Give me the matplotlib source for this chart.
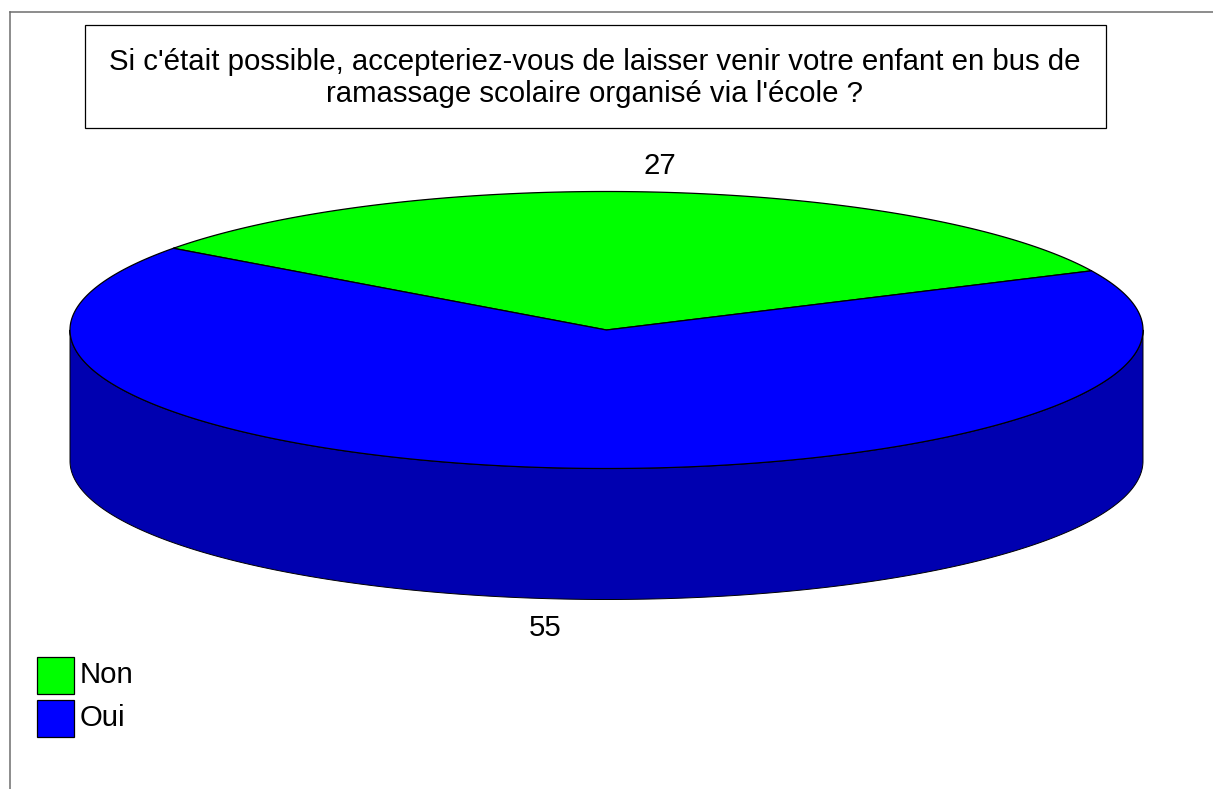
import numpy as np
import matplotlib
matplotlib.use('Agg')
import matplotlib.pyplot as plt
from matplotlib.patches import Polygon, Rectangle

# Data
categories = ['Non', 'Oui']
values = [27, 55]
colors = ['#00ff00', '#0000ff']
title_lines = ["Si c'était possible, accepteriez-vous de laisser venir votre enfant en bus de",
               "ramassage scolaire organisé via l'école ?"]

plt.rcParams['font.family'] = ['Liberation Sans', 'DejaVu Sans']

W, H = 1213, 789
fig = plt.figure(figsize=(W / 100, H / 100), dpi=100)
ax = fig.add_axes([0, 0, 1, 1])
ax.set_xlim(0, W)
ax.set_ylim(H, 0)
ax.axis('off')

# pie geometry in pixels
cx, cy = 606.5, 330
rx, ry = 536.5, 138.5
depth = 131
start_angle = 25.3
side_color = '#0000b0'
fs = 21.2


def ell(t, dy=0):
    t = np.radians(t)
    return np.column_stack([cx + rx * np.cos(t), cy - ry * np.sin(t) + dy])


# outer frame, only top and left are visible
ax.plot([10, W], [12, 12], color='#6e6e6e', lw=1.1)
ax.plot([10, 10], [12, H], color='#6e6e6e', lw=1.1)

# title box
ax.add_patch(Rectangle((85, 24.5), 1021, 103.5, fc='white', ec='black', lw=0.9))
ax.text(594.5, 61.5, title_lines[0], fontsize=fs, ha='center', va='center')
ax.text(594.5, 93.5, title_lines[1], fontsize=fs, ha='center', va='center')

# side of the cylinder
front = np.linspace(180, 360, 300)
side = np.vstack([ell(front), ell(front[::-1], depth)])
ax.add_patch(Polygon(side, closed=True, fc=side_color, ec='black', lw=0.7, joinstyle='round'))

# top slices, angles come from the values
a = start_angle
for val, col in zip(values, colors):
    span = 360 * val / sum(values)
    tt = np.linspace(a, a + span, 400)
    pts = np.vstack([[cx, cy], ell(tt)])
    ax.add_patch(Polygon(pts, closed=True, fc=col, ec='black', lw=0.9, joinstyle='round'))
    a += span

# value labels
ax.text(660, 166, str(values[0]), fontsize=fs, ha='center', va='center')
ax.text(545, 628, str(values[1]), fontsize=fs, ha='center', va='center')

# legend
for i, (cat, col) in enumerate(zip(categories, colors)):
    y = 656.5 + i * 43
    ax.add_patch(Rectangle((36.5, y), 37.5, 37.5, fc=col, ec='black', lw=0.9))
    ax.text(80, y + 18.5, cat, fontsize=fs, ha='left', va='center')

fig.savefig('out.png', dpi=100)
